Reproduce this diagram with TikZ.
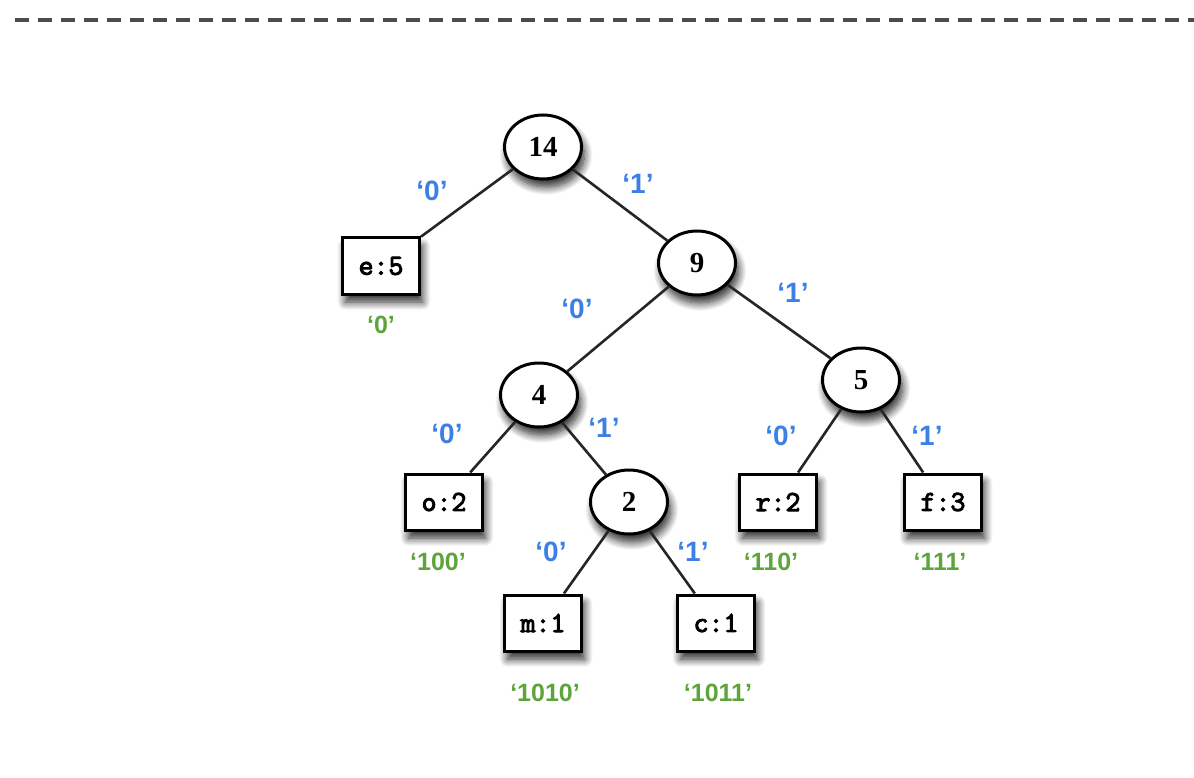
\documentclass[tikz,border=0pt]{standalone}
\usepackage{fontspec}
\setmainfont{Liberation Serif}
\newfontfamily\labelfont{Liberation Sans}
\newfontfamily\leaffont[FakeBold=3.5]{Latin Modern Mono}
\usetikzlibrary{shapes.geometric,shadows.blur}
\definecolor{bitblue}{HTML}{3C7FE6}
\definecolor{codegreen}{HTML}{5EA43C}
\tikzset{
  softshadow/.style={blur shadow={shadow xshift=3pt,shadow yshift=-8pt,
    shadow blur radius=8pt,shadow blur steps=12,shadow opacity=85}},
  inner/.style={ellipse,draw=black,line width=3pt,fill=white,
    minimum width=77pt,minimum height=64pt,inner sep=0pt,
    font=\fontsize{29}{29}\selectfont\bfseries,softshadow},
  leaf/.style={rectangle,draw=black,line width=3pt,fill=white,
    minimum width=77pt,minimum height=56pt,inner sep=0pt,
    font=\leaffont\fontsize{29}{29}\selectfont,softshadow},
  edge/.style={line width=2.6pt,black!85},
  bit/.style={font=\labelfont\fontsize{28}{28}\selectfont\bfseries,text=bitblue},
  code/.style={font=\labelfont\fontsize{25}{25}\selectfont\bfseries,text=codegreen}
}
\begin{document}
\begin{tikzpicture}[x=1pt,y=-1pt]
\path[use as bounding box] (0,0) rectangle (1194,778);

% separator
\draw[line width=3.5pt,black!70,dash pattern=on 14pt off 9pt] (15,20) -- (1194,20);

% internal nodes
\node[inner] (n14) at (543,147) {14};
\node[inner] (n9)  at (697,263) {9};
\node[inner] (n4)  at (539,395) {4};
\node[inner] (n5)  at (861,380) {5};
\node[inner] (n2)  at (629,502) {2};

% leaves
\node[leaf] (e) at (381,266) {e:5};
\node[leaf] (o) at (444,502) {o:2};
\node[leaf] (m) at (543,623) {m:1};
\node[leaf] (c) at (716,623) {c:1};
\node[leaf] (r) at (778,502) {r:2};
\node[leaf] (f) at (943,502) {f:3};

% tree edges
\draw[edge] (n14) -- (e);
\draw[edge] (n14) -- (n9);
\draw[edge] (n9) -- (n4);
\draw[edge] (n9) -- (n5);
\draw[edge] (n4) -- (o);
\draw[edge] (n4) -- (n2);
\draw[edge] (n2) -- (m);
\draw[edge] (n2) -- (c);
\draw[edge] (n5) -- (r);
\draw[edge] (n5) -- (f);

% branch bits
\node[bit] (b1) at (432,191) {‘0’};
\node[bit] (b2) at (638,184) {‘1’};
\node[bit] (b3) at (577,309) {‘0’};
\node[bit] (b4) at (793,293) {‘1’};
\node[bit] (b5) at (447,434) {‘0’};
\node[bit] (b6) at (604,428) {‘1’};
\node[bit] (b7) at (781,436) {‘0’};
\node[bit] (b8) at (927,436) {‘1’};
\node[bit] (b9) at (551,552) {‘0’};
\node[bit] (b10) at (693,552) {‘1’};

% resulting codes
\node[code] (ce) at (381,325) {‘0’};
\node[code] (co) at (438,562) {‘100’};
\node[code] (cm) at (545,693) {‘1010’};
\node[code] (cc) at (718,693) {‘1011’};
\node[code] (cr) at (771,562) {‘110’};
\node[code] (cf) at (940,562) {‘111’};
\end{tikzpicture}
\end{document}
